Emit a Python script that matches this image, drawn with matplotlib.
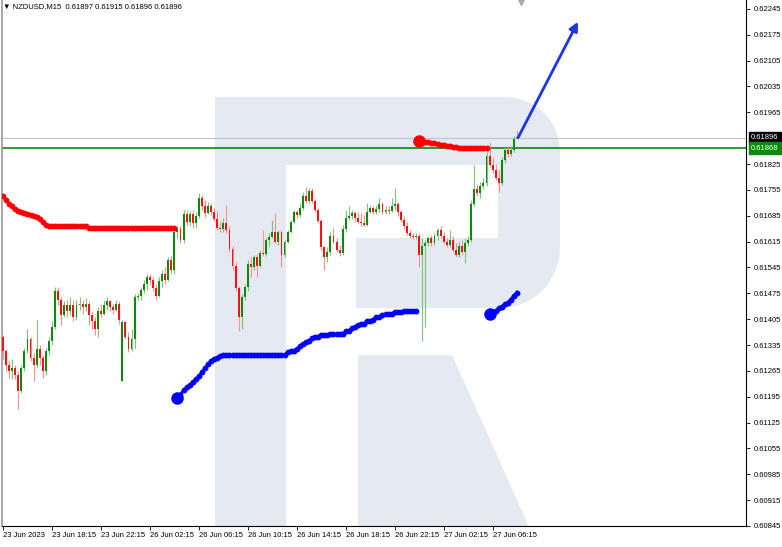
import matplotlib
matplotlib.use('Agg')
import matplotlib.pyplot as plt
import numpy as np
from matplotlib.patches import Polygon
from matplotlib.transforms import blended_transform_factory

plt.rcParams['font.family'] = ['Liberation Sans', 'DejaVu Sans']

# ---------------- data (NZDUSD M15) ----------------
symbol_title = "NZDUSD,M15  0.61897 0.61915 0.61896 0.61896"

opens = [
    0.61356, 0.61318, 0.61280, 0.61264, 0.61274, 0.61253, 0.61210, 0.61274, 0.61318, 0.61350,
    0.61301, 0.61280, 0.61323, 0.61301, 0.61264, 0.61318, 0.61345, 0.61383, 0.61480, 0.61458,
    0.61415, 0.61442, 0.61426, 0.61442, 0.61410, 0.61442, 0.61447, 0.61437, 0.61447, 0.61415,
    0.61399, 0.61377, 0.61426, 0.61420, 0.61442, 0.61453, 0.61437, 0.61431, 0.61447, 0.61237,
    0.61396, 0.61358, 0.61323, 0.61350, 0.61464, 0.61469, 0.61485, 0.61501, 0.61520, 0.61510,
    0.61488, 0.61469, 0.61507, 0.61528, 0.61512, 0.61566, 0.61539, 0.61642, 0.61650, 0.61620,
    0.61691, 0.61669, 0.61691, 0.61664, 0.61685, 0.61734, 0.61710, 0.61693, 0.61712, 0.61696,
    0.61677, 0.61653, 0.61650, 0.61664, 0.61647, 0.61596, 0.61550, 0.61488, 0.61412, 0.61466,
    0.61491, 0.61553, 0.61547, 0.61572, 0.61550, 0.61585, 0.61582, 0.61618, 0.61628, 0.61642,
    0.61615, 0.61642, 0.61580, 0.61615, 0.61642, 0.61669, 0.61696, 0.61688, 0.61707, 0.61739,
    0.61726, 0.61753, 0.61726, 0.61701, 0.61672, 0.61599, 0.61572, 0.61588, 0.61631, 0.61615,
    0.61593, 0.61585, 0.61650, 0.61680, 0.61685, 0.61693, 0.61680, 0.61669, 0.61666, 0.61661,
    0.61696, 0.61707, 0.61696, 0.61704, 0.61718, 0.61696, 0.61701, 0.61699, 0.61710, 0.61718,
    0.61696, 0.61674, 0.61658, 0.61639, 0.61631, 0.61628, 0.61631, 0.61580, 0.61604, 0.61612,
    0.61626, 0.61610, 0.61631, 0.61647, 0.61631, 0.61615, 0.61607, 0.61620, 0.61593, 0.61580,
    0.61604, 0.61588, 0.61610, 0.61620, 0.61718, 0.61756, 0.61747, 0.61766, 0.61774, 0.61847,
    0.61823, 0.61810, 0.61788, 0.61774, 0.61837, 0.61864, 0.61853, 0.61864, 0.61897,
]
highs = [
    0.61361, 0.61323, 0.61291, 0.61296, 0.61280, 0.61264, 0.61280, 0.61328, 0.61377, 0.61356,
    0.61312, 0.61404, 0.61334, 0.61307, 0.61328, 0.61356, 0.61399, 0.61491, 0.61491, 0.61464,
    0.61453, 0.61458, 0.61464, 0.61458, 0.61458, 0.61464, 0.61458, 0.61461, 0.61453, 0.61426,
    0.61410, 0.61437, 0.61445, 0.61458, 0.61464, 0.61458, 0.61447, 0.61458, 0.61453, 0.61404,
    0.61401, 0.61369, 0.61377, 0.61472, 0.61477, 0.61493, 0.61510, 0.61526, 0.61528, 0.61518,
    0.61501, 0.61518, 0.61539, 0.61545, 0.61574, 0.61577, 0.61650, 0.61658, 0.61656, 0.61701,
    0.61701, 0.61699, 0.61701, 0.61696, 0.61747, 0.61742, 0.61728, 0.61723, 0.61720, 0.61707,
    0.61699, 0.61672, 0.61680, 0.61715, 0.61658, 0.61604, 0.61561, 0.61496, 0.61474, 0.61499,
    0.61566, 0.61574, 0.61580, 0.61582, 0.61593, 0.61647, 0.61626, 0.61637, 0.61674, 0.61693,
    0.61647, 0.61647, 0.61620, 0.61647, 0.61674, 0.61701, 0.61701, 0.61720, 0.61750, 0.61764,
    0.61761, 0.61761, 0.61731, 0.61707, 0.61677, 0.61604, 0.61599, 0.61642, 0.61653, 0.61626,
    0.61607, 0.61661, 0.61701, 0.61710, 0.61701, 0.61699, 0.61696, 0.61693, 0.61688, 0.61720,
    0.61715, 0.61712, 0.61715, 0.61734, 0.61723, 0.61712, 0.61712, 0.61734, 0.61761, 0.61723,
    0.61701, 0.61685, 0.61669, 0.61647, 0.61639, 0.61639, 0.61637, 0.61626, 0.61620, 0.61631,
    0.61634, 0.61637, 0.61653, 0.61658, 0.61642, 0.61626, 0.61647, 0.61631, 0.61610, 0.61615,
    0.61620, 0.61626, 0.61631, 0.61728, 0.61823, 0.61772, 0.61777, 0.61788, 0.61858, 0.61882,
    0.61842, 0.61826, 0.61810, 0.61845, 0.61872, 0.61874, 0.61874, 0.61901, 0.61915,
]
lows = [
    0.61296, 0.61264, 0.61247, 0.61242, 0.61242, 0.61161, 0.61204, 0.61264, 0.61312, 0.61291,
    0.61237, 0.61274, 0.61280, 0.61247, 0.61253, 0.61307, 0.61334, 0.61377, 0.61442, 0.61388,
    0.61410, 0.61410, 0.61415, 0.61399, 0.61404, 0.61431, 0.61420, 0.61426, 0.61388, 0.61377,
    0.61361, 0.61356, 0.61410, 0.61415, 0.61431, 0.61426, 0.61420, 0.61426, 0.61393, 0.61237,
    0.61350, 0.61315, 0.61318, 0.61328, 0.61458, 0.61458, 0.61477, 0.61485, 0.61501, 0.61480,
    0.61458, 0.61464, 0.61493, 0.61501, 0.61507, 0.61528, 0.61526, 0.61626, 0.61610, 0.61610,
    0.61658, 0.61656, 0.61653, 0.61653, 0.61680, 0.61701, 0.61682, 0.61691, 0.61688, 0.61672,
    0.61645, 0.61642, 0.61642, 0.61637, 0.61588, 0.61539, 0.61480, 0.61372, 0.61377, 0.61458,
    0.61480, 0.61520, 0.61539, 0.61518, 0.61545, 0.61577, 0.61577, 0.61599, 0.61626, 0.61610,
    0.61607, 0.61547, 0.61572, 0.61610, 0.61637, 0.61664, 0.61680, 0.61682, 0.61701, 0.61720,
    0.61720, 0.61720, 0.61696, 0.61666, 0.61593, 0.61539, 0.61561, 0.61580, 0.61610, 0.61588,
    0.61577, 0.61580, 0.61642, 0.61674, 0.61677, 0.61672, 0.61664, 0.61658, 0.61656, 0.61656,
    0.61693, 0.61691, 0.61691, 0.61696, 0.61691, 0.61691, 0.61691, 0.61696, 0.61701, 0.61685,
    0.61669, 0.61650, 0.61634, 0.61626, 0.61623, 0.61623, 0.61545, 0.61345, 0.61385, 0.61604,
    0.61604, 0.61607, 0.61620, 0.61626, 0.61610, 0.61601, 0.61601, 0.61588, 0.61572, 0.61572,
    0.61580, 0.61558, 0.61604, 0.61615, 0.61710, 0.61739, 0.61734, 0.61756, 0.61766, 0.61818,
    0.61801, 0.61783, 0.61750, 0.61769, 0.61828, 0.61845, 0.61847, 0.61858, 0.61896,
]
closes = [
    0.61318, 0.61280, 0.61264, 0.61274, 0.61253, 0.61210, 0.61274, 0.61318, 0.61350, 0.61301,
    0.61280, 0.61323, 0.61301, 0.61264, 0.61318, 0.61345, 0.61383, 0.61480, 0.61458, 0.61415,
    0.61442, 0.61426, 0.61442, 0.61410, 0.61442, 0.61447, 0.61437, 0.61447, 0.61415, 0.61399,
    0.61377, 0.61426, 0.61420, 0.61442, 0.61453, 0.61437, 0.61431, 0.61447, 0.61404, 0.61396,
    0.61358, 0.61323, 0.61350, 0.61464, 0.61469, 0.61485, 0.61501, 0.61520, 0.61510, 0.61488,
    0.61469, 0.61507, 0.61528, 0.61512, 0.61566, 0.61539, 0.61642, 0.61650, 0.61620, 0.61691,
    0.61669, 0.61691, 0.61664, 0.61685, 0.61734, 0.61710, 0.61693, 0.61712, 0.61696, 0.61677,
    0.61653, 0.61650, 0.61664, 0.61647, 0.61596, 0.61550, 0.61488, 0.61412, 0.61466, 0.61491,
    0.61553, 0.61547, 0.61572, 0.61550, 0.61585, 0.61582, 0.61618, 0.61628, 0.61642, 0.61615,
    0.61642, 0.61580, 0.61615, 0.61642, 0.61669, 0.61696, 0.61688, 0.61707, 0.61739, 0.61726,
    0.61753, 0.61726, 0.61701, 0.61672, 0.61599, 0.61572, 0.61588, 0.61631, 0.61615, 0.61593,
    0.61585, 0.61650, 0.61680, 0.61685, 0.61693, 0.61680, 0.61669, 0.61666, 0.61661, 0.61696,
    0.61707, 0.61696, 0.61704, 0.61718, 0.61696, 0.61701, 0.61699, 0.61710, 0.61718, 0.61696,
    0.61674, 0.61658, 0.61639, 0.61631, 0.61628, 0.61631, 0.61580, 0.61604, 0.61612, 0.61626,
    0.61610, 0.61631, 0.61647, 0.61631, 0.61615, 0.61607, 0.61620, 0.61593, 0.61580, 0.61604,
    0.61588, 0.61610, 0.61620, 0.61718, 0.61756, 0.61747, 0.61766, 0.61774, 0.61847, 0.61823,
    0.61810, 0.61788, 0.61774, 0.61837, 0.61864, 0.61853, 0.61864, 0.61893, 0.61896,
]

# indicator segments (first bar index, values)
red1_start = 0
red1 = [0.61739, 0.61728, 0.61718, 0.61710, 0.61704, 0.61699, 0.61696, 0.61693, 0.61691, 0.61688,
        0.61685, 0.61682, 0.61677, 0.61669, 0.61661,
        0.61656, 0.61656, 0.61656, 0.61656, 0.61656, 0.61656, 0.61656, 0.61656, 0.61656, 0.61656,
        0.61656, 0.61656, 0.61656,
        0.61653, 0.61653, 0.61653, 0.61653, 0.61653, 0.61653, 0.61653, 0.61653, 0.61653, 0.61653,
        0.61653, 0.61653, 0.61653, 0.61653, 0.61653, 0.61653, 0.61653, 0.61653, 0.61653, 0.61653,
        0.61653, 0.61653, 0.61653, 0.61653, 0.61653, 0.61653, 0.61653, 0.61653, 0.61653]
blue1_start = 57
blue1 = [0.61191, 0.61201, 0.61212, 0.61220, 0.61226, 0.61234, 0.61242, 0.61250, 0.61261, 0.61272,
         0.61283, 0.61291, 0.61296, 0.61301, 0.61304,
         0.61307, 0.61307, 0.61307, 0.61307, 0.61307, 0.61307, 0.61307, 0.61307, 0.61307, 0.61307,
         0.61307, 0.61307, 0.61307, 0.61307, 0.61307, 0.61307, 0.61307, 0.61307, 0.61307, 0.61307,
         0.61307,
         0.61315, 0.61318, 0.61320, 0.61323, 0.61331, 0.61337, 0.61342, 0.61347, 0.61353, 0.61358,
         0.61358, 0.61361, 0.61361, 0.61361, 0.61364, 0.61364, 0.61364, 0.61364, 0.61366, 0.61372,
         0.61374, 0.61380, 0.61383, 0.61388, 0.61391, 0.61393, 0.61399, 0.61401, 0.61404, 0.61410,
         0.61412, 0.61415, 0.61418, 0.61418, 0.61420, 0.61423, 0.61423, 0.61423, 0.61426, 0.61426,
         0.61426, 0.61426, 0.61426]
red2_start = 136
red2 = [0.61888, 0.61888, 0.61885, 0.61885, 0.61882, 0.61882, 0.61880, 0.61877, 0.61877, 0.61874,
        0.61874, 0.61872, 0.61872, 0.61869, 0.61869, 0.61869, 0.61869, 0.61869, 0.61869, 0.61869,
        0.61869, 0.61869, 0.61869]
blue2_start = 159
blue2 = [0.61418, 0.61423, 0.61428, 0.61434, 0.61439, 0.61445, 0.61450, 0.61458, 0.61469, 0.61477]

bid_level = 0.61896
green_level = 0.61868
arrow_from = (168.3, 0.61896)
arrow_to = (187.9, 0.62210)

ytick_values = [0.62245, 0.62175, 0.62105, 0.62035, 0.61965, 0.61825, 0.61755, 0.61685,
                0.61615, 0.61545, 0.61475, 0.61405, 0.61335, 0.61265, 0.61195, 0.61125,
                0.61055, 0.60985, 0.60915, 0.60845]
xtick_bars = [0, 16, 32, 48, 64, 80, 96, 112, 128, 144, 160]
xtick_labels = ["23 Jun 2023", "23 Jun 18:15", "23 Jun 22:15", "26 Jun 02:15", "26 Jun 06:15",
                "26 Jun 10:15", "26 Jun 14:15", "26 Jun 18:15", "26 Jun 22:15", "27 Jun 02:15",
                "27 Jun 06:15"]

# ---------------- figure ----------------
W, H = 782, 547
fig = plt.figure(figsize=(W / 100, H / 100), dpi=100)
fig.patch.set_facecolor('white')
AX_L, AX_R, AX_T, AX_B = 2, 746, 0, 526
ax = fig.add_axes([AX_L / W, 1 - AX_B / H, (AX_R - AX_L) / W, (AX_B - AX_T) / H])
ax.set_facecolor('white')
ax.set_xlim(-0.33, 242.8)
ax.set_ylim(0.60847, 0.62269)


def pxa(px, py):
    return ((px - AX_L) / (AX_R - AX_L), (AX_B - py) / (AX_B - AX_T))


def arc(cx, cy, r, a0, a1, n=20):
    t = np.radians(np.linspace(a0, a1, n))
    return [(cx + r * np.cos(a), cy - r * np.sin(a)) for a in t]


# watermark "R"
wm = '#e4e9f2'
outline = [(215, 540), (215, 97)] + arc(505, 152, 55, 90, 0) + arc(500, 248, 60, 0, -90) + \
          [(356, 308), (356, 238), (498, 238), (498, 165), (286, 165), (286, 540)]
ax.add_patch(Polygon([pxa(*p) for p in outline], closed=True, transform=ax.transAxes,
                     fc=wm, ec='none', zorder=0))
leg = [(358, 355), (452, 355), (535, 540), (358, 540)]
ax.add_patch(Polygon([pxa(*p) for p in leg], closed=True, transform=ax.transAxes,
                     fc=wm, ec='none', zorder=0))

# horizontal levels
ax.axhline(bid_level, color='#c4c4c4', lw=0.8, zorder=1)
ax.axhline(green_level, color='#0a8a0a', lw=1.2, zorder=1)

# candles
o = np.array(opens); h = np.array(highs); l = np.array(lows); c = np.array(closes)
x = np.arange(len(c))
up = c > o
dn = ~up
ax.vlines(x[up], l[up], h[up], color='#7cc47c', lw=0.8, zorder=2)
ax.vlines(x[dn], l[dn], h[dn], color='#ff8f8f', lw=0.8, zorder=2)
body = np.maximum(np.abs(c - o), 0.00002)
ax.bar(x[up], body[up], bottom=np.minimum(o, c)[up], width=0.62, color='#0b8a0b', lw=0, zorder=3)
ax.bar(x[dn], body[dn], bottom=np.minimum(o, c)[dn], width=0.62, color='#ff1010', lw=0, zorder=3)


def seg(start, vals, color, big=True):
    xs = np.arange(start, start + len(vals))
    ax.plot(xs, vals, color=color, lw=2.2, marker='o', ms=3.2, mec=color, mfc=color, zorder=4)
    if big:
        ax.plot([xs[0]], [vals[0]], 'o', color=color, ms=8, zorder=5)


seg(red1_start, red1, '#ff0000', big=False)
seg(blue1_start, blue1, '#0000ff')
seg(red2_start, red2, '#ff0000')
seg(blue2_start, blue2, '#0000ff')

ax.annotate('', xy=arrow_to, xytext=arrow_from,
            arrowprops=dict(arrowstyle='-|>', color='#1a35e8', lw=2.0, mutation_scale=13,
                            shrinkA=0, shrinkB=0), zorder=6)

# axes styling
for s in ['top']:
    ax.spines[s].set_visible(False)
ax.spines['left'].set_color('#9a9a9a')
ax.spines['left'].set_linewidth(1.2)
ax.spines['bottom'].set_color('black')
ax.spines['bottom'].set_linewidth(0.8)
ax.spines['right'].set_color('black')
ax.spines['right'].set_linewidth(0.8)

ax.yaxis.tick_right()
ax.set_yticks(ytick_values)
ax.set_yticklabels([f"{v:.5f}" for v in ytick_values])
ax.tick_params(axis='y', direction='out', length=3, width=0.6, pad=2.5, labelsize=5.5,
               colors='black')
ax.set_xticks(xtick_bars)
ax.set_xticklabels(xtick_labels)
ax.tick_params(axis='x', direction='out', length=3, width=0.6, pad=1.5, labelsize=5.5,
               colors='black')
for lab in ax.get_xticklabels():
    lab.set_ha('left')

# price boxes on the right scale
trans = blended_transform_factory(ax.transAxes, ax.transData)
ax.text(1.0 + 5 / 744, bid_level, f"{bid_level:.5f}", transform=trans, ha='left', va='center',
        fontsize=5.5, color='white', clip_on=False, zorder=10,
        bbox=dict(boxstyle='square,pad=0.3', fc='black', ec='black'))
ax.text(1.0 + 5 / 744, green_level, f"{green_level:.5f}", transform=trans, ha='left', va='center',
        fontsize=5.5, color='white', clip_on=False, zorder=10,
        bbox=dict(boxstyle='square,pad=0.3', fc='#0b8a0b', ec='#0b8a0b'))

# title
fig.text(3 / W, 1 - 7 / H, "\u25BC " + symbol_title, ha='left', va='center', fontsize=5.5,
         color='black')

# chart-shift marker at the top
ax.plot([pxa(521, 2)[0]], [pxa(521, 2)[1]], marker='v', color='#a8a8a8', ms=5,
        transform=ax.transAxes, clip_on=False, zorder=10)

fig.savefig('out.png', dpi=100, facecolor='white')
